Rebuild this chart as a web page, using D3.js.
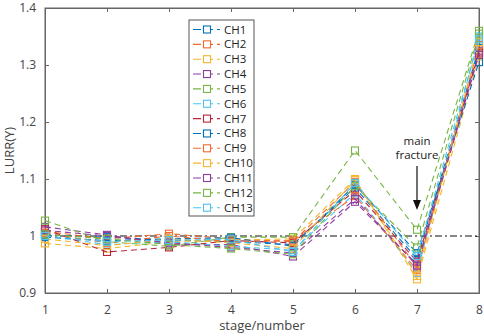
<!DOCTYPE html>
<html>
<head>
<meta charset="utf-8">
<script src="https://cdn.jsdelivr.net/npm/d3@7"></script>
<style>
  body { margin: 0; background: #fff; }
  text { font-family: "Open Sans", "DejaVu Sans", sans-serif; }
</style>
</head>
<body>
<div id="chart"></div>
<script>
// data
const stages = [1, 2, 3, 4, 5, 6, 7, 8];
const channels = ["CH1", "CH2", "CH3", "CH4", "CH5", "CH6", "CH7", "CH8", "CH9", "CH10", "CH11", "CH12", "CH13"];
const ch1  = [1.002, 0.998, 0.993, 0.990, 0.985, 1.085, 0.960, 1.330];
const ch2  = [1.008, 0.995, 1.004, 0.995, 0.990, 1.095, 0.945, 1.320];
const ch3  = [0.987, 0.978, 0.990, 0.993, 0.995, 1.100, 0.924, 1.315];
const ch4  = [1.016, 1.002, 0.985, 0.985, 0.964, 1.060, 0.950, 1.325];
const ch5  = [1.027, 0.990, 0.982, 0.998, 0.998, 1.150, 1.011, 1.360];
const ch6  = [1.000, 0.985, 0.990, 0.982, 0.975, 1.075, 0.935, 1.350];
const ch7  = [1.012, 0.972, 0.980, 0.992, 0.988, 1.080, 0.955, 1.322];
const ch8  = [0.998, 0.992, 0.995, 0.997, 0.982, 1.090, 0.970, 1.305];
const ch9  = [1.005, 0.988, 1.000, 0.990, 0.992, 1.070, 0.940, 1.335];
const ch10 = [0.995, 0.983, 0.995, 0.988, 0.978, 1.098, 0.930, 1.340];
const ch11 = [1.010, 1.000, 0.988, 0.980, 0.970, 1.065, 0.948, 1.318];
const ch12 = [1.003, 0.995, 0.985, 0.978, 0.968, 1.088, 0.980, 1.355];
const ch13 = [1.000, 0.990, 0.993, 0.994, 0.972, 1.093, 0.965, 1.345];
const seriesValues = [ch1, ch2, ch3, ch4, ch5, ch6, ch7, ch8, ch9, ch10, ch11, ch12, ch13];
const yTicks = [0.9, 1, 1.1, 1.2, 1.3, 1.4];
const refLevel = 1;

const colors = ["#0072BD", "#EF6B2F", "#F5B52A", "#8E3E9E", "#77B543", "#4DC3EE", "#B8243A"];

const width = 484, height = 336;
const margin = {top: 8, right: 5, bottom: 43, left: 45};
const w = width - margin.left - margin.right;
const h = height - margin.top - margin.bottom;

const svg = d3.select("#chart").append("svg")
    .attr("width", width)
    .attr("height", height);

const g = svg.append("g")
    .attr("transform", `translate(${margin.left},${margin.top})`);

const x = d3.scaleLinear().domain([1, 8]).range([0, w]);
const y = d3.scaleLinear().domain([0.9, 1.4]).range([h, 0]);

const axisColor = "#666";
const textColor = "#444";

// box
g.append("rect")
    .attr("width", w).attr("height", h)
    .attr("fill", "none").attr("stroke", axisColor).attr("stroke-width", 1);

// axes with inward ticks
const xAxis = g.append("g").attr("transform", `translate(0,${h})`)
    .call(d3.axisBottom(x).tickValues(stages).tickSize(-4).tickPadding(12).tickFormat(d3.format("d")));
const xTop = g.append("g")
    .call(d3.axisTop(x).tickValues(stages).tickSize(-4).tickFormat(""));
const yAxis = g.append("g")
    .call(d3.axisLeft(y).tickValues(yTicks).tickSize(-4).tickPadding(9).tickFormat(d => d === 1 ? "1" : d3.format(".1f")(d)));
const yRight = g.append("g").attr("transform", `translate(${w},0)`)
    .call(d3.axisRight(y).tickValues(yTicks).tickSize(-4).tickFormat(""));

[xAxis, xTop, yAxis, yRight].forEach(a => {
    a.select(".domain").attr("stroke", axisColor);
    a.selectAll(".tick line").attr("stroke", axisColor);
    a.selectAll(".tick text").attr("fill", textColor).style("font-size", "12px")
        .style("font-family", "'Open Sans', 'DejaVu Sans', sans-serif");
});

// axis labels
svg.append("text")
    .attr("x", margin.left + w / 2).attr("y", 330)
    .attr("text-anchor", "middle").attr("fill", textColor)
    .style("font-size", "13px").text("stage/number");
svg.append("text")
    .attr("transform", `translate(14,${margin.top + h / 2}) rotate(-90)`)
    .attr("text-anchor", "middle").attr("fill", textColor)
    .style("font-size", "13px").text("LURR(Y)");

// reference line at 1
g.append("line")
    .attr("x1", x(1)).attr("x2", x(8))
    .attr("y1", y(refLevel)).attr("y2", y(refLevel))
    .attr("stroke", "#111").attr("stroke-width", 1.2)
    .attr("stroke-dasharray", "7,3,2,3");

// series
const line = d3.line().x((d, i) => x(stages[i])).y(d => y(d));

seriesValues.forEach((vals, k) => {
    const c = colors[k % colors.length];
    g.append("path")
        .datum(vals)
        .attr("d", line)
        .attr("fill", "none")
        .attr("stroke", c)
        .attr("stroke-width", 1.1)
        .attr("stroke-dasharray", "6,4");
    g.selectAll(".m" + k)
        .data(vals)
        .enter().append("rect")
        .attr("x", (d, i) => x(stages[i]) - 3.5)
        .attr("y", d => y(d) - 3.5)
        .attr("width", 7).attr("height", 7)
        .attr("fill", "none").attr("stroke", c).attr("stroke-width", 1.1);
});

// annotation
const ax = x(7);
g.append("text").attr("x", ax).attr("y", 145 - margin.top)
    .attr("text-anchor", "middle").attr("fill", "#222")
    .style("font-size", "11.5px").text("main");
g.append("text").attr("x", ax).attr("y", 159 - margin.top)
    .attr("text-anchor", "middle").attr("fill", "#222")
    .style("font-size", "11.5px").text("fracture");
g.append("line")
    .attr("x1", ax).attr("x2", ax)
    .attr("y1", 166 - margin.top).attr("y2", 204 - margin.top)
    .attr("stroke", "#111").attr("stroke-width", 1.2);
g.append("path")
    .attr("d", `M${ax - 4},${200 - margin.top} L${ax + 4},${200 - margin.top} L${ax},${210 - margin.top} Z`)
    .attr("fill", "#111");

// legend
const lg = svg.append("g").attr("transform", "translate(189,20)");
lg.append("rect")
    .attr("width", 65).attr("height", 196)
    .attr("fill", "#fff").attr("stroke", "#555").attr("stroke-width", 1);
channels.forEach((name, k) => {
    const c = colors[k % colors.length];
    const yy = 9.5 + k * 14.85;
    lg.append("line")
        .attr("x1", 4).attr("x2", 31).attr("y1", yy).attr("y2", yy)
        .attr("stroke", c).attr("stroke-width", 1.1).attr("stroke-dasharray", "8,4");
    lg.append("rect")
        .attr("x", 14.5).attr("y", yy - 3.5).attr("width", 7).attr("height", 7)
        .attr("fill", "#fff").attr("stroke", c).attr("stroke-width", 1.1);
    lg.append("text")
        .attr("x", 35).attr("y", yy + 4)
        .attr("fill", "#222").style("font-size", "11.5px").text(name);
});
</script>
</body>
</html>
